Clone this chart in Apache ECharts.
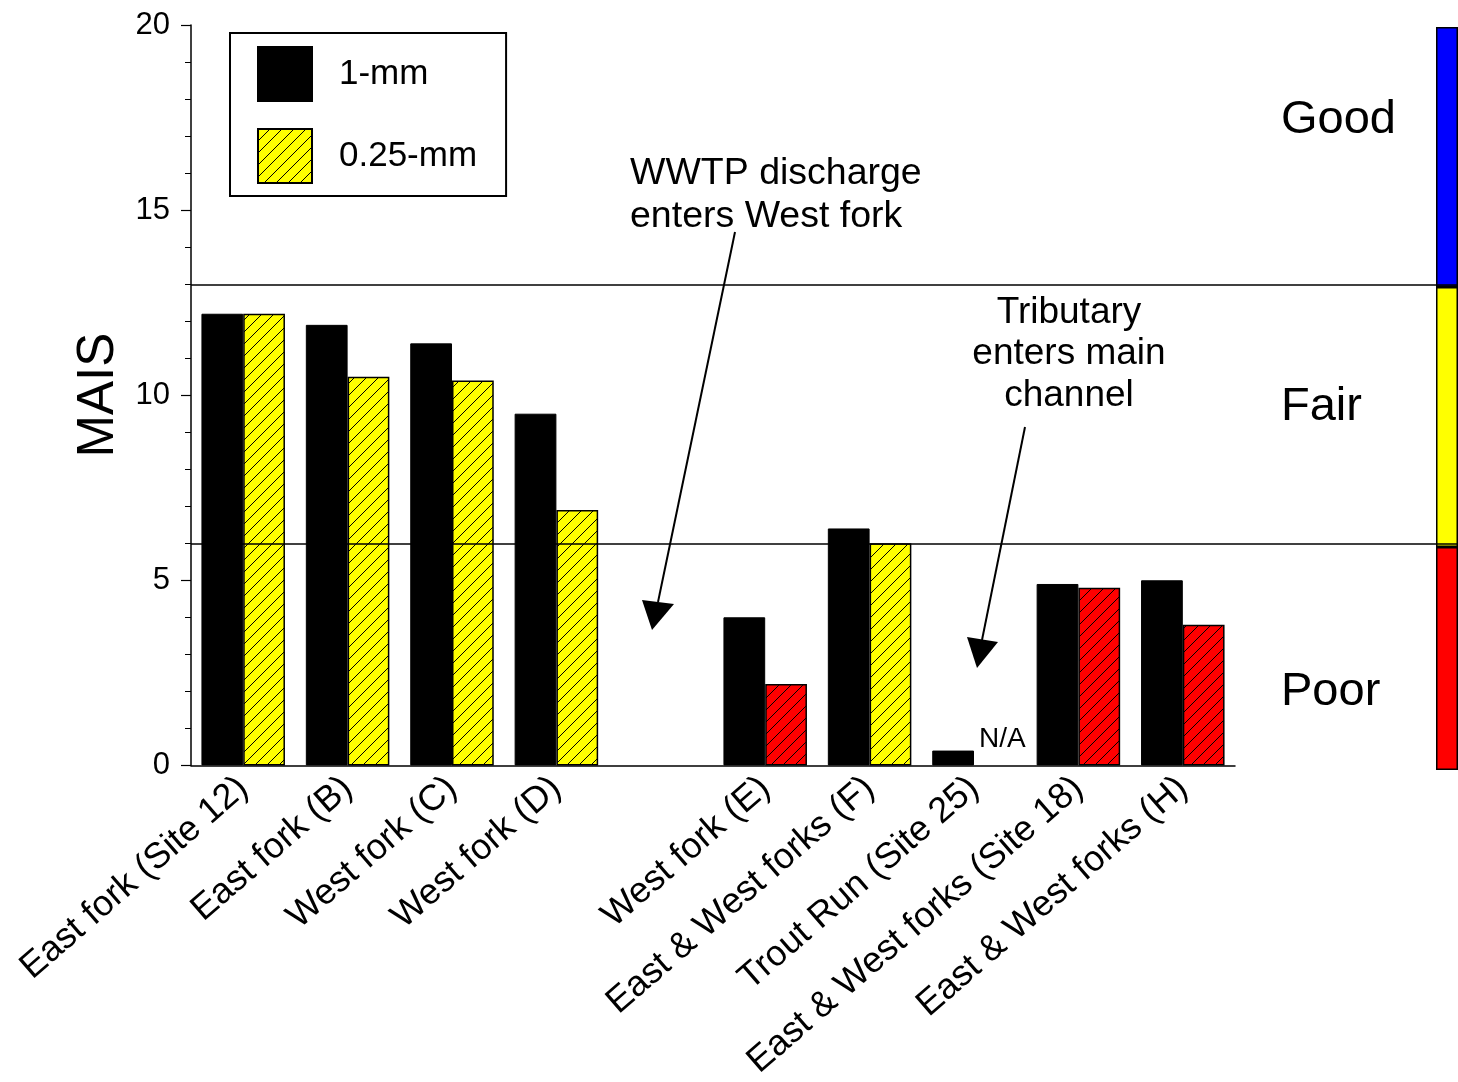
<!DOCTYPE html>
<html>
<head>
<meta charset="utf-8">
<script src="https://cdn.jsdelivr.net/npm/echarts@6/dist/echarts.min.js"></script>
<style>
    html, body { margin: 0; padding: 0; background: #fff; }
    #chart { width: 1458px; height: 1082px; }
</style>
</head>
<body>
<div id="chart"></div>
<script>
    // sites along the stream, the empty slot is the gap before the WWTP
    var sites = ['East fork (Site 12)', 'East fork (B)', 'West fork (C)', 'West fork (D)', '',
        'West fork (E)', 'East & West forks (F)', 'Trout Run (Site 25)', 'East & West forks (Site 18)', 'East & West forks (H)']
    var mais1mm = [12.2, 11.9, 11.4, 9.5, null, 4.0, 6.4, 0.4, 4.9, 5.0]
    var mais025mm = [12.2, 10.5, 10.4, 6.9, null, 2.2, 6.0, null, 4.8, 3.8]
    var yTicks = [0, 5, 10, 15, 20]
    // condition classes: Poor 0-6, Fair 6-13, Good 13-20
    var classNames = ['Poor', 'Fair', 'Good']
    var classBounds = [0, 6, 13, 20]
    var classColors = ['#ff0000', '#ffff00', '#0000ff']

    var FONT = '"Liberation Sans", Arial, sans-serif'

    function hatch(fill) {
        var c = document.createElement('canvas')
        var s = 12
        c.width = s
        c.height = s
        var ctx = c.getContext('2d')
        ctx.fillStyle = fill
        ctx.fillRect(0, 0, s, s)
        ctx.strokeStyle = '#000'
        ctx.lineWidth = 1
        ctx.beginPath()
        ctx.moveTo(0, s); ctx.lineTo(s, 0)
        ctx.moveTo(-2, 2); ctx.lineTo(2, -2)
        ctx.moveTo(s - 2, s + 2); ctx.lineTo(s + 2, s - 2)
        ctx.stroke()
        return { image: c, repeat: 'repeat' }
    }
    var yellowHatch = hatch('#ffff00')
    var redHatch = hatch('#ff0000')

    var classWidths = classNames.map(function (n, i) { return classBounds[i + 1] - classBounds[i] })

    var chart = echarts.init(document.getElementById('chart'))

    var option = {
        animation: false,
        textStyle: { fontFamily: FONT, color: '#000' },
        grid: [
            { left: 191, top: 25, width: 1044, bottom: 316 },
            { left: 191, top: 25, right: 0, bottom: 316 },
            { left: 1436, top: 27, width: 40, bottom: 312 }
        ],
        legend: {
            data: ['1-mm', '0.25-mm'],
            orient: 'vertical',
            left: 230,
            top: 33,
            icon: 'rect',
            itemWidth: 54,
            itemHeight: 54,
            itemGap: 26,
            padding: [13, 29, 12, 27],
            borderColor: '#000',
            borderWidth: 2,
            textStyle: { fontSize: 35, color: '#000', fontFamily: FONT, padding: [0, 0, 0, 22] }
        },
        xAxis: [
            {
                type: 'category',
                gridIndex: 0,
                data: sites,
                axisLine: { lineStyle: { color: '#000', width: 1.5 } },
                axisTick: { show: false },
                axisLabel: { interval: 0, rotate: 41, fontSize: 36, color: '#000', margin: 18, fontFamily: FONT }
            },
            { type: 'value', gridIndex: 1, min: 0, max: 1, show: false },
            { type: 'category', gridIndex: 2, data: ['class'], show: false }
        ],
        yAxis: [
            {
                type: 'value',
                gridIndex: 0,
                min: yTicks[0],
                max: yTicks[yTicks.length - 1],
                interval: yTicks[1] - yTicks[0],
                name: 'MAIS',
                nameLocation: 'middle',
                nameRotate: 90,
                nameGap: 66,
                nameTextStyle: { fontSize: 51, color: '#000', fontFamily: FONT },
                axisLine: { show: true, lineStyle: { color: '#000', width: 1.5 } },
                axisTick: { show: true, length: 10, lineStyle: { color: '#000', width: 1.2 } },
                minorTick: { show: true, splitNumber: 5, length: 6, lineStyle: { color: '#000', width: 1 } },
                splitLine: { show: false },
                axisLabel: { fontSize: 31, color: '#000', margin: 21, fontFamily: FONT }
            },
            { type: 'value', gridIndex: 1, min: 0, max: 20, show: false },
            { type: 'value', gridIndex: 2, min: 0, max: 20, show: false }
        ],
        series: [
            {
                name: '1-mm',
                type: 'bar',
                xAxisIndex: 0,
                yAxisIndex: 0,
                barWidth: '40%',
                barGap: '0%',
                itemStyle: { color: '#000', borderColor: '#000', borderWidth: 1 },
                data: mais1mm
            },
            {
                name: '0.25-mm',
                type: 'bar',
                xAxisIndex: 0,
                yAxisIndex: 0,
                barWidth: '40%',
                barGap: '0%',
                itemStyle: { color: yellowHatch, borderColor: '#000', borderWidth: 1.5 },
                data: mais025mm.map(function (v) {
                    if (v == null) return null
                    return { value: v, itemStyle: { color: v >= classBounds[1] ? yellowHatch : redHatch } }
                })
            },
            {
                type: 'line',
                xAxisIndex: 1,
                yAxisIndex: 1,
                data: [],
                silent: true,
                markLine: {
                    symbol: 'none',
                    silent: true,
                    label: { show: false },
                    lineStyle: { color: '#000', width: 1.5, type: 'solid' },
                    data: [{ yAxis: classBounds[2] }, { yAxis: classBounds[1] }]
                }
            }
        ].concat(classNames.map(function (n, i) {
            return {
                name: n,
                type: 'bar',
                xAxisIndex: 2,
                yAxisIndex: 2,
                stack: 'class',
                barWidth: '100%',
                itemStyle: { color: classColors[i], borderColor: '#000', borderWidth: 1.5 },
                data: [classWidths[i]]
            }
        })),
        graphic: [
            { type: 'text', left: 630, top: 152, style: { text: 'WWTP discharge\nenters West fork', font: '37.5px ' + FONT, lineHeight: 43, fill: '#000' } },
            { type: 'line', shape: { x1: 735, y1: 232, x2: 658, y2: 602 }, style: { stroke: '#000', lineWidth: 2 } },
            { type: 'polygon', shape: { points: [[642, 600], [674, 604], [652, 630]] }, style: { fill: '#000' } },
            { type: 'text', x: 1069, y: 292, style: { text: 'Tributary\nenters main\nchannel', font: '37px ' + FONT, lineHeight: 41.5, fill: '#000', textAlign: 'center' } },
            { type: 'line', shape: { x1: 1025, y1: 427, x2: 982, y2: 640 }, style: { stroke: '#000', lineWidth: 2 } },
            { type: 'polygon', shape: { points: [[967, 637], [998, 642], [977, 668]] }, style: { fill: '#000' } },
            { type: 'text', x: 979, y: 739, style: { text: 'N/A', font: '28px ' + FONT, fill: '#000', textVerticalAlign: 'middle' } },
            { type: 'text', x: 1281, y: 120, style: { text: classNames[2], font: '47px ' + FONT, fill: '#000', textVerticalAlign: 'middle' } },
            { type: 'text', x: 1281, y: 407, style: { text: classNames[1], font: '47px ' + FONT, fill: '#000', textVerticalAlign: 'middle' } },
            { type: 'text', x: 1281, y: 692, style: { text: classNames[0], font: '47px ' + FONT, fill: '#000', textVerticalAlign: 'middle' } }
        ]
    }

    chart.setOption(option)

    window.addEventListener('resize', function () {
        chart.resize()
    })
</script>
</body>
</html>
